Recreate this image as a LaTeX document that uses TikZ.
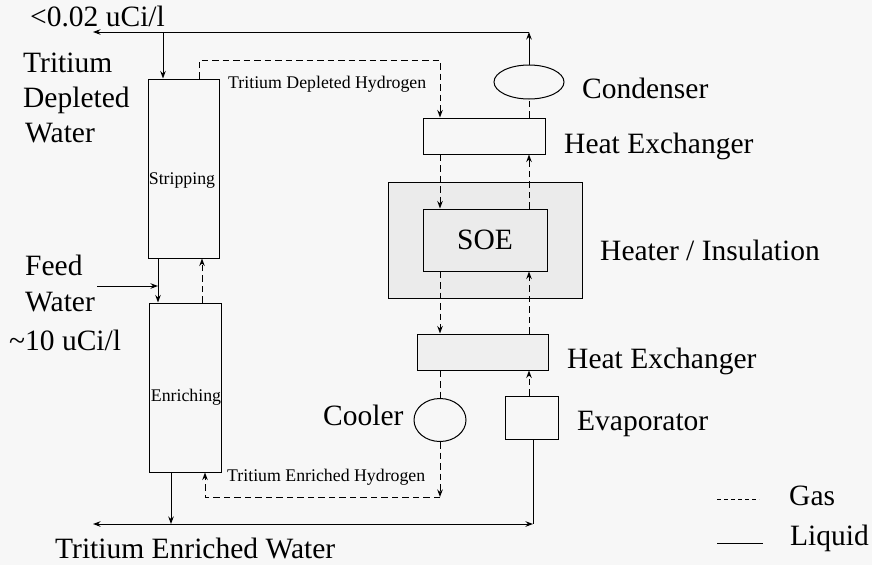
\documentclass[tikz,border=0pt]{standalone}
\usepackage{fontspec}
\setmainfont{Liberation Serif}
\usetikzlibrary{shapes.geometric,arrows.meta,calc}
\definecolor{bg}{HTML}{F7F7F7}
\definecolor{speck}{HTML}{EBEBEB}
\definecolor{speckb}{HTML}{EFEFEF}
\begin{document}
\begin{tikzpicture}[x=1pt,y=-1pt,
  unit/.style={draw=black,line width=1pt,inner sep=0pt},
  liq/.style={line width=1pt},
  gas/.style={line width=1pt,dash pattern=on 6.5pt off 4pt},
  tip/.style={-{Stealth[length=7.5pt,width=5.5pt]}},
  big/.style={font=\fontsize{29.5}{34}\selectfont,inner sep=0pt},
  small/.style={font=\fontsize{17.8}{20}\selectfont,inner sep=0pt}]
\fill[bg] (0,0) rectangle (872,565);
\useasboundingbox (0,0) rectangle (872,565);

% units
\node[unit,minimum width=71pt,minimum height=179pt] (strip) at (183.5,168.5) {};
\node[unit,minimum width=72pt,minimum height=169pt] (enr) at (185,387.5) {};
\node[small] (striplab) at (182,181) {Stripping};
\node[small] (enrlab) at (186,397) {Enriching};
\node[unit,minimum width=122pt,minimum height=36pt] (hx1) at (484,136) {};
\node[unit,fill=speck,minimum width=194pt,minimum height=116pt] (heater) at (485,240) {};
\node[unit,fill=speck,minimum width=124pt,minimum height=62pt,big] (soe) at (485,240) {SOE};
\node[unit,fill=speckb,minimum width=131pt,minimum height=36pt] (hx2) at (482.5,352) {};
\node[unit,ellipse,minimum width=70pt,minimum height=34pt] (cond) at (529,82) {};
\node[unit,ellipse,minimum width=52pt,minimum height=43pt] (cool) at (440,420) {};
\node[unit,minimum width=53pt,minimum height=43pt] (evap) at (531.5,417.5) {};

% helper coordinates
\coordinate (cA) at (163,32);
\coordinate (cB) at (199,60);
\coordinate (cC) at (440,60);
\coordinate (cF) at (158,286);
\coordinate (cFin) at (97,286);
\coordinate (cG) at (202,0);
\coordinate (cR) at (529,32);
\coordinate (cL) at (93,32);
\coordinate (cE) at (171,524);
\coordinate (cEL) at (93,524);
\coordinate (cER) at (533,524);
\coordinate (cK) at (440,497);
\coordinate (cH) at (205,497);

% liquid top loop
\draw[liq,tip] (cond.north) -- (cR);
\draw[liq,tip] (cR) -- (cL);
\draw[liq,tip] (cA) -- (strip.north -| cA);
% gas from stripping top to heat exchanger
\draw[gas,tip] (strip.north -| cB) -- (cB) -- (cC) -- (hx1.north -| cC);
\draw[gas,tip] (hx1.south -| cC) -- (soe.north -| cC);
\draw[gas,tip] (soe.south -| cC) -- (hx2.north -| cC);
\draw[gas] (hx2.south -| cC) -- (cool.north);
\draw[gas,tip] (cool.south) -- (cK);
\draw[gas,tip] (cK) -- (cH) -- (enr.south -| cH);
% right gas column
\draw[gas,tip] (evap.north -| cR) -- (hx2.south -| cR);
\draw[gas,tip] (hx2.north -| cR) -- (soe.south -| cR);
\draw[gas,tip] (soe.north -| cR) -- (hx1.south -| cR);
\draw[gas] (hx1.north -| cR) -- (cond.south);
% feed and columns
\draw[liq,tip] (cFin) -- (cF);
\draw[liq,tip] (strip.south -| cF) -- (enr.north -| cF);
\draw[gas,tip] (enr.north -| cG) -- (strip.south -| cG);
% bottom liquid
\draw[liq,tip] (enr.south -| cE) -- (cE);
\draw[liq,tip] (cE) -- (cEL);
\draw[liq,tip] (cE) -- (cER);
\draw[liq] (evap.south -| cER) -- (cER);

% labels
\node[big,anchor=base west] (t1) at (30,26) {<0.02 uCi/l};
\node[big,anchor=base west] (t2) at (23,72) {Tritium};
\node[big,anchor=base west] (t3) at (23,107) {Depleted};
\node[big,anchor=base west] (t4) at (25,142) {Water};
\node[big,anchor=base west] (t5) at (25,275) {Feed};
\node[big,anchor=base west] (t6) at (25,311) {Water};
\node[big,anchor=base west] (t7) at (9,350) {\textasciitilde10 uCi/l};
\node[small,anchor=base west] (t8) at (228,88) {Tritium Depleted Hydrogen};
\node[small,anchor=base west] (t9) at (227,481) {Tritium Enriched Hydrogen};
\node[big,anchor=base west] (t10) at (582,98) {Condenser};
\node[big,anchor=base west] (t11) at (564,153) {Heat Exchanger};
\node[big,anchor=base west] (t12) at (600,260) {Heater / Insulation};
\node[big,anchor=base west] (t13) at (567,368) {Heat Exchanger};
\node[big,anchor=base west] (t14) at (577,430) {Evaporator};
\node[big,anchor=base west] (t15) at (323,425) {Cooler};
\node[big,anchor=base west] (t16) at (55,558) {Tritium Enriched Water};

% legend
\coordinate (g1) at (717,499);
\coordinate (g2) at (759,499);
\coordinate (l1) at (717,543);
\coordinate (l2) at (763,543);
\draw[liq,dash pattern=on 4pt off 3pt] (g1) -- (g2);
\draw[liq] (l1) -- (l2);
\node[big,anchor=base west] (lg) at (789,505) {Gas};
\node[big,anchor=base west] (ll) at (790,545) {Liquid};
\end{tikzpicture}
\end{document}
